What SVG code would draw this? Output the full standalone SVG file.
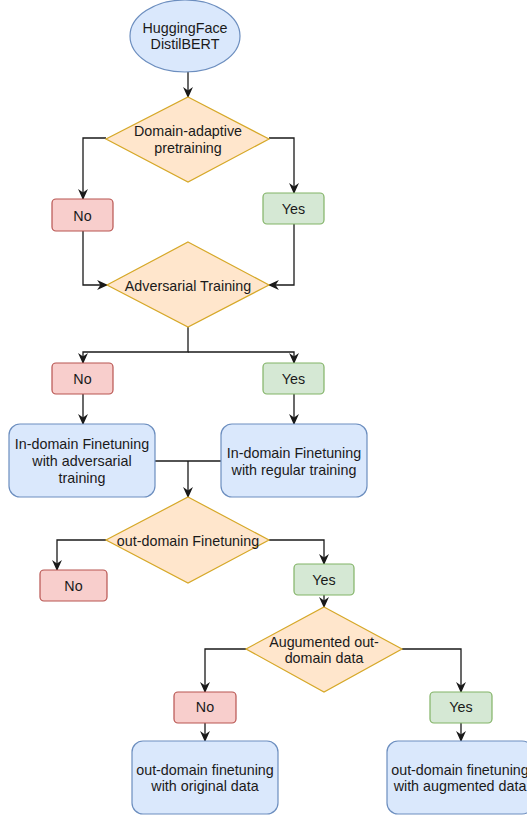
<svg xmlns="http://www.w3.org/2000/svg" width="527" height="815" viewBox="0 0 527 815">
<defs>
<style>
.t{font-family:"Liberation Sans",Arial,Helvetica,sans-serif;font-size:14.3px;fill:#1a1a1a;text-anchor:middle}
.blue{fill:#dae8fc;stroke:#6c8ebf;stroke-width:1.2}
.dia{fill:#ffe6cc;stroke:#d6a828;stroke-width:1.2}
.red{fill:#f8cecc;stroke:#b85450;stroke-width:1.2}
.green{fill:#d5e8d4;stroke:#82b366;stroke-width:1.2}
.c{fill:none;stroke:#1a1a1a;stroke-width:1.3}
</style>
<marker id="ah" viewBox="0 0 10 10" refX="9" refY="5" markerWidth="11" markerHeight="11" markerUnits="userSpaceOnUse" orient="auto">
<path d="M0,0.5 L10,5 L0,9.5 L3,5 Z" fill="#1a1a1a"/>
</marker>
</defs>
<rect width="527" height="815" fill="#ffffff"/>
<g id="connectors">
<path class="c" d="M188,72 V97" marker-end="url(#ah)"/>
<path class="c" d="M106,138 H83 V199" marker-end="url(#ah)"/>
<path class="c" d="M269,138 H294 V193" marker-end="url(#ah)"/>
<path class="c" d="M83,231 V285 H107" marker-end="url(#ah)"/>
<path class="c" d="M294,224 V285 H269" marker-end="url(#ah)"/>
<path class="c" d="M188,327 V352 H83 V363" marker-end="url(#ah)"/>
<path class="c" d="M188,352 H294 V363" marker-end="url(#ah)"/>
<path class="c" d="M83,394 V424" marker-end="url(#ah)"/>
<path class="c" d="M294,394 V424" marker-end="url(#ah)"/>
<path class="c" d="M155,461 H221"/>
<path class="c" d="M188,461 V497" marker-end="url(#ah)"/>
<path class="c" d="M106,540 H57 V570" marker-end="url(#ah)"/>
<path class="c" d="M269,540 H324 V564" marker-end="url(#ah)"/>
<path class="c" d="M324,595 V607" marker-end="url(#ah)"/>
<path class="c" d="M246,649 H205 V692" marker-end="url(#ah)"/>
<path class="c" d="M402,649 H461 V692" marker-end="url(#ah)"/>
<path class="c" d="M205,723 V741" marker-end="url(#ah)"/>
<path class="c" d="M461,723 V741" marker-end="url(#ah)"/>
</g>
<g id="start">
<ellipse class="blue" cx="185" cy="36" rx="55" ry="36"/>
<text class="t" x="185" y="33">HuggingFace</text>
<text class="t" x="185" y="49">DistilBERT</text>
</g>
<g id="dap">
<polygon class="dia" points="188,97 269,139 188,182 106,139"/>
<text class="t" x="188" y="136">Domain-adaptive</text>
<text class="t" x="188" y="153">pretraining</text>
</g>
<g id="no1">
<rect class="red" x="52" y="199" width="61" height="32" rx="4"/>
<text class="t" x="82.5" y="221">No</text>
</g>
<g id="yes1">
<rect class="green" x="263" y="193" width="61" height="31" rx="4"/>
<text class="t" x="293.5" y="214">Yes</text>
</g>
<g id="adv">
<polygon class="dia" points="188,242 269,285 188,327 107,285"/>
<text class="t" x="188" y="291">Adversarial Training</text>
</g>
<g id="no2">
<rect class="red" x="52" y="363" width="61" height="31" rx="4"/>
<text class="t" x="82.5" y="384">No</text>
</g>
<g id="yes2">
<rect class="green" x="263" y="363" width="61" height="31" rx="4"/>
<text class="t" x="293.5" y="384">Yes</text>
</g>
<g id="ft-adv">
<rect class="blue" x="9" y="424" width="146" height="73" rx="11"/>
<text class="t" x="82" y="449">In-domain Finetuning</text>
<text class="t" x="82" y="466">with adversarial</text>
<text class="t" x="82" y="483">training</text>
</g>
<g id="ft-reg">
<rect class="blue" x="221" y="424" width="146" height="73" rx="11"/>
<text class="t" x="294" y="458">In-domain Finetuning</text>
<text class="t" x="294" y="475">with regular training</text>
</g>
<g id="odf">
<polygon class="dia" points="188,497 269,540 188,583 106,540"/>
<text class="t" x="188" y="546">out-domain Finetuning</text>
</g>
<g id="no3">
<rect class="red" x="40" y="570" width="67" height="31" rx="4"/>
<text class="t" x="73.5" y="591">No</text>
</g>
<g id="yes3">
<rect class="green" x="294" y="564" width="60" height="31" rx="4"/>
<text class="t" x="324" y="585">Yes</text>
</g>
<g id="aug">
<polygon class="dia" points="324,607 402,649 324,692 246,649"/>
<text class="t" x="324" y="647">Augumented out-</text>
<text class="t" x="324" y="663">domain data</text>
</g>
<g id="no4">
<rect class="red" x="174" y="692" width="62" height="31" rx="4"/>
<text class="t" x="205" y="712">No</text>
</g>
<g id="yes4">
<rect class="green" x="430" y="692" width="62" height="31" rx="4"/>
<text class="t" x="461" y="712">Yes</text>
</g>
<g id="ft-orig">
<rect class="blue" x="132" y="741" width="146" height="73" rx="11"/>
<text class="t" x="205" y="775">out-domain finetuning</text>
<text class="t" x="205" y="791">with original data</text>
</g>
<g id="ft-aug">
<rect class="blue" x="387" y="741" width="146" height="73" rx="11"/>
<text class="t" x="460" y="775">out-domain finetuning</text>
<text class="t" x="460" y="791">with augmented data</text>
</g>
</svg>
